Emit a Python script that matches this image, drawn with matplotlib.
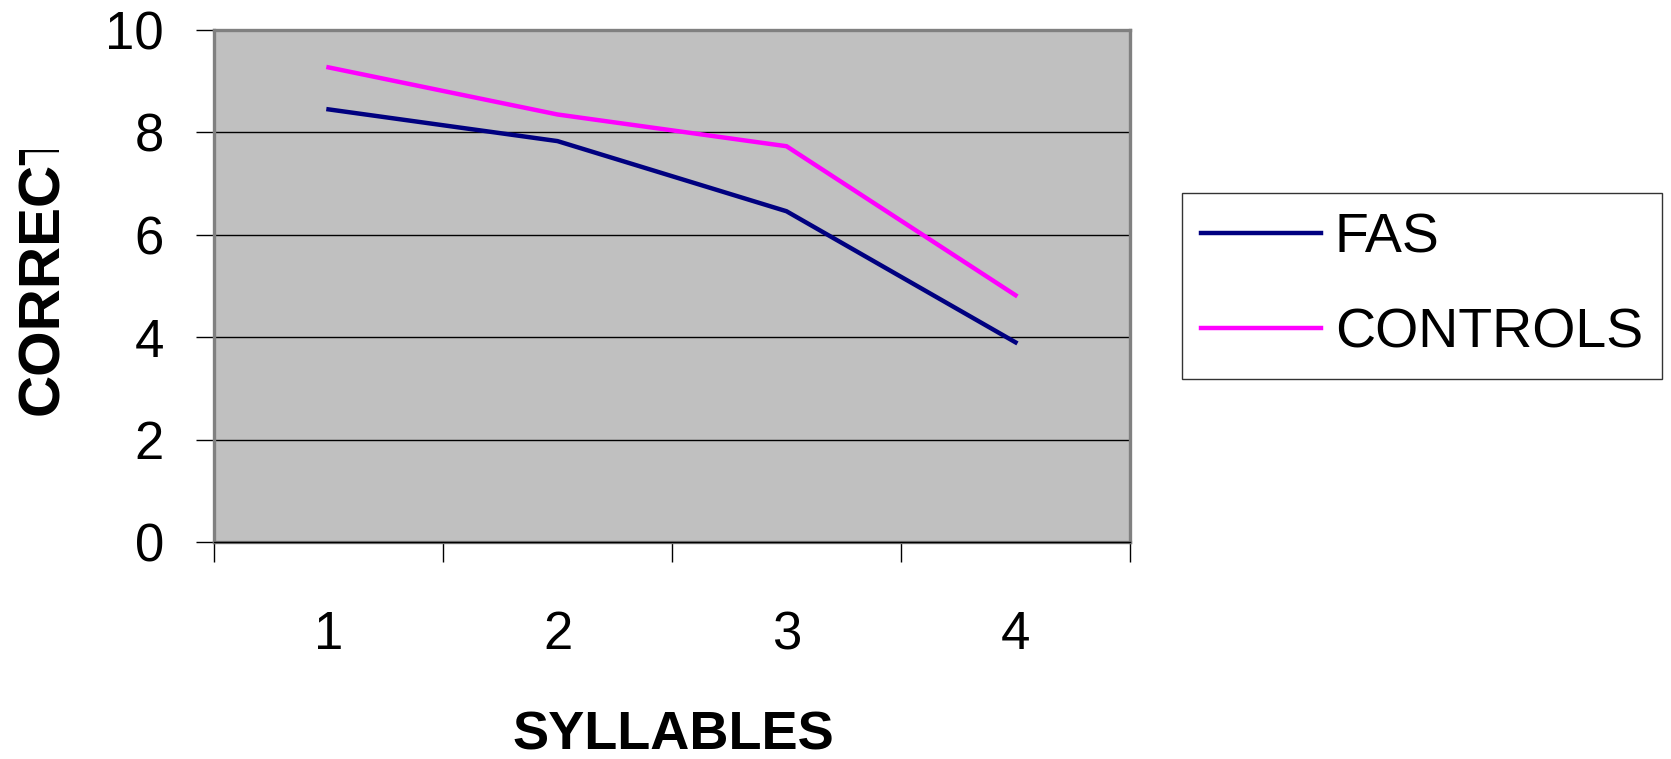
import numpy as np
import matplotlib
matplotlib.use('Agg')
import matplotlib.pyplot as plt
from matplotlib.transforms import Bbox, TransformedBbox

# ── Data ──────────────────────────────────────────────
syllables = [1, 2, 3, 4]
fas       = [8.45, 7.83, 6.46, 3.90]
controls  = [9.27, 8.35, 7.73, 4.82]

plt.rcParams['font.family'] = ['Liberation Sans', 'DejaVu Sans']

W, H = 1671, 759
fig = plt.figure(figsize=(W / 100, H / 100), dpi=100, facecolor='white')
ax = fig.add_axes([214 / W, 1 - 542 / H, (1130 - 214) / W, (542 - 30) / H])
ax.set_facecolor('#c0c0c0')

# grid lines (black, thin)
for v in [2, 4, 6, 8]:
    ax.axhline(v, color='black', lw=1.0, zorder=1)

ax.plot(syllables, fas, color='#000080', lw=3.2, label='FAS', zorder=3,
        solid_joinstyle='miter')
ax.plot(syllables, controls, color='#ff00ff', lw=3.2, label='CONTROLS', zorder=3,
        solid_joinstyle='miter')

ax.set_xlim(0.5, 4.5)
ax.set_ylim(0, 10)

for s in ax.spines.values():
    s.set_color('#808080')
    s.set_linewidth(2.4)
ax.axhline(0, color='black', lw=1.0, zorder=4, clip_on=False)

# y axis ticks
ax.set_yticks([0, 2, 4, 6, 8, 10])
ax.tick_params(axis='y', direction='out', length=13, width=1, color='black',
               labelsize=38, pad=23)

# x axis: tick marks at category boundaries, labels centred
ax.set_xticks(np.arange(0.5, 5, 1.0))
ax.set_xticklabels([])
ax.set_xticks(syllables, minor=True)
ax.set_xticklabels([str(s) for s in syllables], minor=True)
ax.tick_params(axis='x', which='major', direction='out', length=14.5, width=1,
               color='black')
ax.tick_params(axis='x', which='minor', length=0, labelsize=38, pad=49)

# axis titles
fig.text(673 / W, 1 - 750 / H, 'SYLLABLES', ha='center', va='baseline',
         fontsize=39, fontweight='bold')
# y title is cut off at its top end in the original, keep that
yl = fig.text(58 / W, 1 - 415 / H, 'CORRECT', rotation=90, rotation_mode='anchor',
              ha='left', va='baseline', fontsize=42, fontweight='bold')
yl.set_clip_box(TransformedBbox(Bbox([[0, 0], [1, 1 - 150 / H]]), fig.transFigure))
yl.set_clip_on(True)

# legend
leg = fig.legend(loc='upper left', bbox_to_anchor=(1182 / W, 1 - 193 / H),
                 bbox_transform=fig.transFigure, borderaxespad=0,
                 fontsize=40, frameon=True, fancybox=False, edgecolor='black',
                 handlelength=2.15, handletextpad=0.25, borderpad=0.35,
                 labelspacing=0.78)
leg.get_frame().set_linewidth(1.0)
for ln in leg.get_lines():
    ln.set_linewidth(3.2)

fig.savefig('out.png', dpi=100, facecolor='white')
